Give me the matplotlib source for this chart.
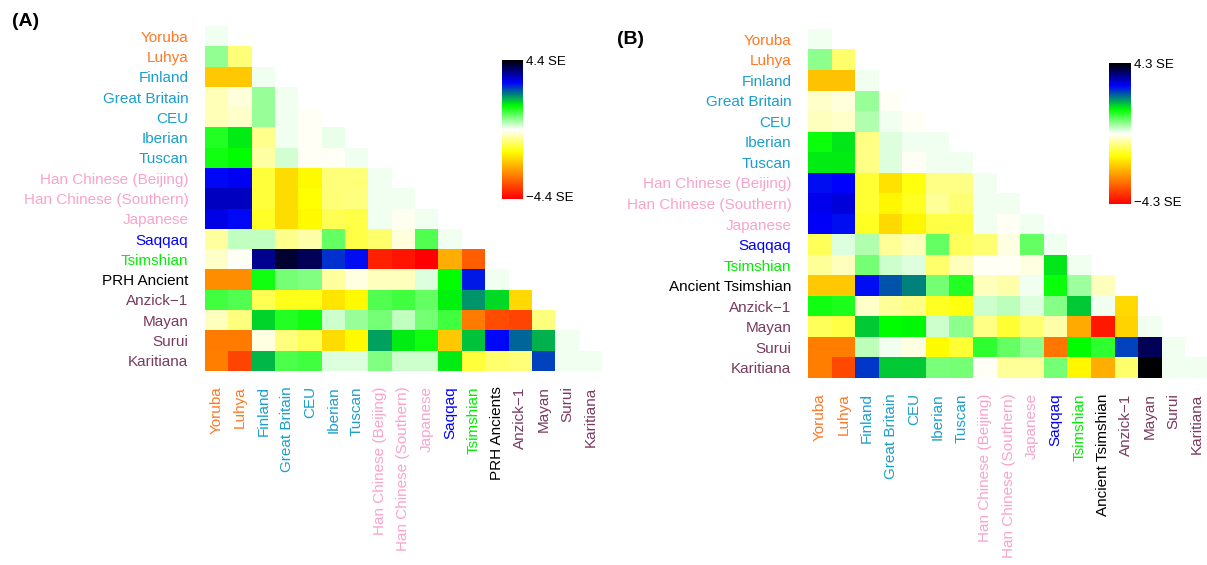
import numpy as np
import matplotlib
matplotlib.use("Agg")
import matplotlib.pyplot as plt
from matplotlib.colors import LinearSegmentedColormap

plt.rcParams['font.family'] = ['Liberation Sans', 'DejaVu Sans']

pops_a = ["Yoruba", "Luhya", "Finland", "Great Britain", "CEU", "Iberian", "Tuscan",
          "Han Chinese (Beijing)", "Han Chinese (Southern)", "Japanese", "Saqqaq",
          "Tsimshian", "PRH Ancient", "Anzick\u22121", "Mayan", "Surui", "Karitiana"]
xlab_a = pops_a[:12] + ["PRH Ancients"] + pops_a[13:]
pops_b = pops_a[:12] + ["Ancient Tsimshian"] + pops_a[13:]

# colour of each population label
label_colors = ["#ff7722", "#ff7722",
                "#1a9fcc", "#1a9fcc", "#1a9fcc", "#1a9fcc", "#1a9fcc",
                "#f9a3cc", "#f9a3cc", "#f9a3cc",
                "#0000ff", "#00ee00", "#000000",
                "#7a3b5f", "#7a3b5f", "#7a3b5f", "#7a3b5f"]

# Z-scores (in SE), lower triangle, one list per row
rows_a = [
    [0.1],
    [0.65, -0.75],
    [-2.05, -2.05, 0.1],
    [-0.4, -0.2, 0.6, 0.1],
    [-0.4, -0.3, 0.6, 0.1, -0.05],
    [1.3, 1.6, -0.65, 0.1, -0.05, 0.12],
    [1.4, 1.5, -0.5, 0.25, -0.05, -0.05, 0.1],
    [2.95, 3.05, -1.1, -1.8, -1.45, -0.75, -0.75, 0.1],
    [3.3, 3.3, -1.1, -1.8, -1.4, -0.75, -0.7, 0.1, 0.08],
    [3.1, 2.95, -1.2, -1.8, -1.45, -0.95, -1.0, 0.1, -0.1, 0.1],
    [-0.55, 0.37, 0.37, -0.65, -0.45, 0.9, -1.0, -0.8, -0.18, 1.0, 0.1],
    [-0.3, -0.05, 3.6, 4.1, 3.9, 2.7, 2.9, -4.0, -4.15, -4.4, -2.35, -3.3],
    [-2.75, -2.75, 1.4, 0.8, 0.73, -0.55, -0.15, -0.35, -0.35, 0.2, 1.5, 2.85, 0.1],
    [1.1, 1.0, -0.95, -1.25, -1.25, -1.7, -1.45, 1.0, 1.1, 0.9, 1.55, 2.1, 1.7, -1.85],
    [-0.37, -0.7, 1.75, 1.3, 1.4, 0.3, 0.6, 0.8, 0.37, 0.8, 1.1, -2.95, -3.5, -3.6, -0.7],
    [-2.95, -2.95, -0.15, -0.7, -0.9, -1.8, -1.45, 2.05, 1.6, 1.4, -2.05, 1.85, 2.95, 2.4,
     1.95, 0.1],
    [-2.9, -3.6, 1.9, 1.05, 1.1, 0.2, 0.2, 0.75, 0.3, 0.3, 1.6, -1.1, -0.8, -0.75, 2.6,
     0.1, 0.1],
]

rows_b = [
    [0.1],
    [0.65, -0.8],
    [-2.05, -2.05, 0.1],
    [-0.3, -0.2, 0.6, -0.05],
    [-0.35, -0.3, 0.45, 0.1, -0.05],
    [1.4, 1.6, -0.65, 0.2, 0.1, 0.1],
    [1.55, 1.55, -0.65, 0.2, -0.05, 0.1, 0.1],
    [2.85, 2.9, -1.1, -1.7, -1.3, -0.65, -0.65, 0.1],
    [3.0, 3.1, -1.1, -1.45, -1.2, -0.55, -0.75, 0.1, 0.1],
    [2.95, 2.85, -1.2, -1.8, -1.45, -1.0, -1.0, 0.1, -0.05, 0.1],
    [-0.9, 0.2, 0.45, -0.55, -0.4, 0.9, -0.9, -0.75, -0.15, 0.9, 0.1],
    [-0.55, -0.35, 0.8, 0.3, 0.2, -0.8, -0.35, -0.05, -0.05, -0.15, 1.6, 0.1],
    [-2.0, -2.0, 2.85, 2.45, 2.15, 0.8, 1.25, -0.35, -0.45, 0.1, 1.4, 0.55, -0.35],
    [1.35, 1.3, -0.3, -0.55, -0.65, -1.2, -1.3, 0.3, 0.37, 0.2, 0.7, 1.75, 0.1, -1.8],
    [-0.9, -1.0, 1.75, 1.45, 1.5, 0.3, 0.65, -0.65, -1.1, -0.75, -0.45, -2.35, -4.0,
     -1.85, 0.1],
    [-2.85, -2.85, 0.37, 0.1, -0.15, -1.4, -1.1, 1.2, 0.9, 0.65, -2.95, 1.45, 1.2, 2.55,
     3.8, 0.1],
    [-2.85, -3.45, 2.6, 1.75, 1.75, 0.75, 0.8, -0.05, -0.55, -0.55, 0.8, -1.45, -2.3,
     -0.8, 4.3, 0.1, 0.1],
]

vmax_a = 4.4
vmax_b = 4.3

cmap = LinearSegmentedColormap.from_list(
    "se", [(0.0, "#ff0000"), (0.34, "#ffff00"), (0.5, "#ffffff"),
           (0.67, "#00ff00"), (0.84, "#0000ff"), (1.0, "#000000")])
cmap.set_bad("white")


def tri_matrix(rows):
    n = len(rows)
    m = np.full((n, n), np.nan)
    for i, r in enumerate(rows):
        m[i, :len(r)] = r
    return m


def heat(fig, rect, rows, ylabels, xlabels, vmax):
    ax = fig.add_axes(rect)
    m = np.ma.masked_invalid(tri_matrix(rows))
    ax.imshow(m, cmap=cmap, vmin=-vmax, vmax=vmax, aspect="auto",
              interpolation="nearest")
    n = len(rows)
    ax.set_xticks(range(n))
    ax.set_xticklabels(xlabels, rotation=90, fontsize=11)
    ax.set_yticks(range(n))
    ax.set_yticklabels(ylabels, fontsize=11)
    ax.tick_params(axis="x", length=0, pad=11)
    ax.tick_params(axis="y", length=0, pad=12)
    for lab, c in zip(ax.get_xticklabels(), label_colors):
        lab.set_color(c)
    for lab, c in zip(ax.get_yticklabels(), label_colors):
        lab.set_color(c)
    for s in ax.spines.values():
        s.set_visible(False)
    return ax


def scale_bar(fig, rect, vmax):
    cax = fig.add_axes(rect)
    grad = np.linspace(vmax, -vmax, 256).reshape(-1, 1)
    cax.imshow(grad, cmap=cmap, vmin=-vmax, vmax=vmax, aspect="auto")
    cax.set_xticks([])
    cax.set_yticks([])
    for s in cax.spines.values():
        s.set_visible(False)
    cax.text(1.12, 0.985, "%.1f SE" % vmax, transform=cax.transAxes,
             ha="left", va="center", fontsize=9.5)
    cax.text(1.12, 0.005, "\u2212%.1f SE" % vmax, transform=cax.transAxes,
             ha="left", va="center", fontsize=9.5)


W, H = 1207, 565
fig = plt.figure(figsize=(W / 100, H / 100), dpi=100)

heat(fig, [205 / W, 1 - 371 / H, 397 / W, 345 / H], rows_a, pops_a, xlab_a, vmax_a)
scale_bar(fig, [502 / W, 1 - 199 / H, 21 / W, 139 / H], vmax_a)

heat(fig, [808 / W, 1 - 378 / H, 401 / W, 349 / H], rows_b, pops_b, pops_b, vmax_b)
scale_bar(fig, [1109 / W, 1 - 204 / H, 22 / W, 141 / H], vmax_b)

fig.text(12 / W, 1 - 21 / H, "(A)", fontsize=14, fontweight="bold", va="center")
fig.text(617 / W, 1 - 40 / H, "(B)", fontsize=14, fontweight="bold", va="center")

fig.savefig("out.png", dpi=100)
